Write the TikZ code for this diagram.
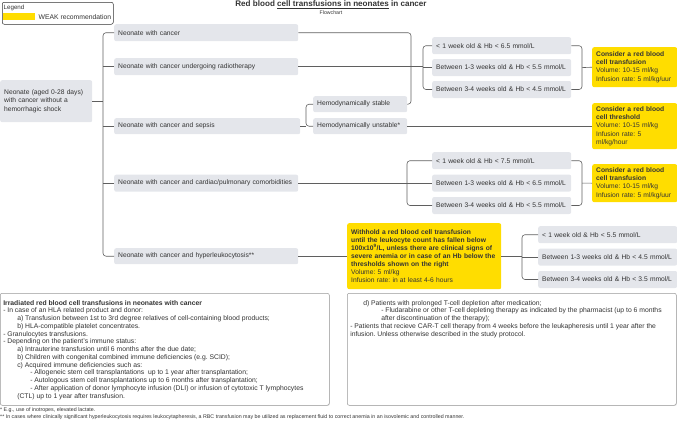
\documentclass[tikz,border=0pt]{standalone}
\usepackage{fontspec}
\setmainfont{Liberation Sans}
\usetikzlibrary{positioning}
\usetikzlibrary{shadows}
\frenchspacing

\definecolor{condgray}{HTML}{E4E6EB}
\definecolor{weakyellow}{HTML}{FFDD00}
\definecolor{linegray}{HTML}{5F5F5F}
\definecolor{txtgray}{HTML}{333333}
\definecolor{framegray}{HTML}{9A9A9A}

\tikzset{
  cond/.style={fill=condgray, rounded corners=2pt, text=txtgray, inner xsep=4pt, inner ysep=0pt,
    minimum height=17pt, text width=#1, align=left, anchor=north west,
    font=\fontsize{6.7}{8.2}\selectfont},
  weak/.style={fill=weakyellow, rounded corners=2pt, text=txtgray, inner xsep=4pt, inner ysep=0pt,
    text width=#1, align=left, anchor=north west, font=\fontsize{6.7}{8.1}\selectfont},
  conn/.style={draw=linegray, line width=0.6pt, rounded corners=3pt},
  note/.style={draw=framegray, fill=white, rounded corners=2pt, line width=0.5pt, inner xsep=3pt,
    inner ysep=7pt, anchor=north west, text=txtgray, font=\fontsize{6.8}{7.75}\selectfont,
    drop shadow={opacity=0.25, shadow xshift=0.6pt, shadow yshift=-0.6pt}},
  foot/.style={anchor=west, inner sep=0pt, text=txtgray, font=\fontsize{5.3}{6}\selectfont}
}

\begin{document}
\begin{tikzpicture}[x=1pt, y=-1pt]
  \useasboundingbox (0,0) rectangle (677,426);

  % legend and title
  \node (legend) [draw=txtgray, rounded corners=2pt, line width=0.5pt, minimum width=111pt,
    minimum height=22pt, anchor=north west] at (2,2) {};
  \node (legendtitle) [anchor=west, inner sep=0pt, text=txtgray, font=\fontsize{6.2}{7}\selectfont] at (3.5,7.5) {Legend};
  \node (swatch) [fill=weakyellow, minimum width=32pt, minimum height=7pt, inner sep=0pt, anchor=north west] at (3,13) {};
  \node (weaklabel) [right=3pt of swatch, inner sep=0pt, text=txtgray, font=\fontsize{6.8}{8}\selectfont] {WEAK recommendation};
  \node (title) [inner sep=0pt, text=txtgray, font=\fontsize{8.1}{9}\selectfont\bfseries] at (331,4.5)
    {Red blood \underline{cell transfusions in neonates} in cancer};
  \node (subtitle) [below=1.5pt of title, inner sep=0pt, text=txtgray, font=\fontsize{5.2}{6}\selectfont] {Flowchart};

  % patient groups
  \node (root) [cond=84pt, minimum height=42pt] at (0,80) {Neonate (aged 0-28 days)\\with cancer without a\\hemorrhagic shock};
  \node (c1) [cond=176pt] at (114,24) {Neonate with cancer};
  \node (c2) [cond=176pt] at (114,58) {Neonate with cancer undergoing radiotherapy};
  \node (c3) [cond=178pt, minimum height=16pt] at (114,118) {Neonate with cancer and sepsis};
  \node (c4) [cond=176pt] at (114,174.5) {Neonate with cancer and cardiac/pulmonary comorbidities};
  \node (c5) [cond=176pt, minimum height=16pt] at (114,248) {Neonate with cancer and hyperleukocytosis**};

  % sepsis
  \node (h1) [cond=86pt, minimum height=16pt] at (313,96) {Hemodynamically stable};
  \node (h2) [cond=86pt, minimum height=16pt] at (313,118) {Hemodynamically unstable*};

  % thresholds
  \node (a1) [cond=131pt] at (432,37) {< 1 week old \& Hb < 6.5 mmol/L};
  \node (a2) [cond=131pt, below=4.5pt of a1] {Between 1-3 weeks old \& Hb < 5.5 mmol/L};
  \node (a3) [cond=131pt, below=4.5pt of a2] {Between 3-4 weeks old \& Hb < 4.5 mmol/L};
  \node (b1) [cond=131pt] at (432,152) {< 1 week old \& Hb < 7.5 mmol/L};
  \node (b2) [cond=131pt, below=5pt of b1] {Between 1-3 weeks old \& Hb < 6.5 mmol/L};
  \node (b3) [cond=131pt, below=5pt of b2] {Between 3-4 weeks old \& Hb < 5.5 mmol/L};
  \node (d1) [cond=131pt] at (538,226) {< 1 week old \& Hb < 5.5 mmol/L};
  \node (d2) [cond=131pt, below=5pt of d1] {Between 1-3 weeks old \& Hb < 4.5 mmol/L};
  \node (d3) [cond=131pt, below=5pt of d2] {Between 3-4 weeks old \& Hb < 3.5 mmol/L};

  % recommendations
  \node (y1) [weak=77pt, minimum height=40pt] at (592,47)
    {\textbf{Consider a red blood\\cell transfusion}\\Volume: 10-15 ml/kg\\Infusion rate: 5 ml/kg/uur};
  \node (y2) [weak=77pt, minimum height=46pt] at (592,103)
    {\textbf{Consider a red blood\\cell threshold}\\Volume: 10-15 ml/kg\\Infusion rate: 5\\ml/kg/hour};
  \node (y3) [weak=77pt, minimum height=38pt] at (592,164)
    {\textbf{Consider a red blood\\cell transfusion}\\Volume: 10-15 ml/kg\\Infusion rate: 5 ml/kg/uur};
  \node (y4) [weak=146pt, minimum height=66pt] at (347,223)
    {\textbf{Withhold a red blood cell transfusion\\until the leukocyte count has fallen below\\100x10\textsuperscript{9}/L, unless there are clinical signs of\\severe anemia or in case of an Hb below the\\thresholds shown on the right}\\Volume: 5 ml/kg\\Infusion rate: in at least 4-6 hours};

  % connectors
  \coordinate (trunk) at (103,0);
  \coordinate (brs) at (306,0);
  \coordinate (br1) at (411,0);
  \coordinate (br2) at (423,0);
  \coordinate (br4) at (407,0);
  \coordinate (br5) at (522,0);
  \coordinate (brr) at (582,0);

  \draw[conn] (c1.west) -- (c1.west -| trunk) -- (c5.west -| trunk) -- (c5.west);
  \draw[conn] (root.east) -- (root.east -| trunk);
  \foreach \n in {c2,c3,c4}
    \draw[conn] (\n.west -| trunk) -- (\n.west);

  \draw[conn] (c1.east) -- (c1.east -| br1) -- (h1.east -| br1) -- (h1.east);
  \draw[conn] (c2.east) -- (c2.east -| br2);
  \draw[conn] (h1.west) -- (h1.west -| brs) -- (h2.west -| brs) -- (h2.west);
  \draw[conn] (c3.east) -- (c3.east -| brs);
  \draw[conn] (h2.east) -- (y2.west);
  \draw[conn] (c4.east) -- (c4.east -| br4);
  \draw[conn] (c5.east) -- (y4.west);

  \draw[conn] (a1.west) -- (a1.west -| br2) -- (a3.west -| br2) -- (a3.west);
  \draw[conn] (a2.west -| br2) -- (a2.west);
  \draw[conn] (a1.east) -- (a1.east -| brr) -- (a3.east -| brr) -- (a3.east);
  \draw[conn] (a2.east -| brr) -- (y1.west);

  \draw[conn] (b1.west) -- (b1.west -| br4) -- (b3.west -| br4) -- (b3.west);
  \draw[conn] (b2.west -| br4) -- (b2.west);
  \draw[conn] (b1.east) -- (b1.east -| brr) -- (b3.east -| brr) -- (b3.east);
  \draw[conn] (b2.east -| brr) -- (y3.west);

  \draw[conn] (y4.east) -- (y4.east -| br5);
  \draw[conn] (d1.west) -- (d1.west -| br5) -- (d3.west -| br5) -- (d3.west);
  \draw[conn] (d2.west -| br5) -- (d2.west);

  % irradiation notes
  \node (irrleft) [note] at (0,293) {\parbox[t][98pt][t]{323pt}{%
    \textbf{Irradiated red blood cell transfusions in neonates with cancer}\\
    - In case of an HLA related product and donor:\\
    \hspace*{14pt}a) Transfusion between 1st to 3rd degree relatives of cell-containing blood products;\\
    \hspace*{14pt}b) HLA-compatible platelet concentrates.\\
    - Granulocytes transfusions.\\
    - Depending on the patient's immune status:\\
    \hspace*{14pt}a) Intrauterine transfusion until 6 months after the due date;\\
    \hspace*{14pt}b) Children with congenital combined immune deficiencies (e.g. SCID);\\
    \hspace*{14pt}c) Acquired immune deficiencies such as:\\
    \hspace*{27pt}- Allogeneic stem cell transplantations\ \ up to 1 year after transplantation;\\
    \hspace*{27pt}- Autologous stem cell transplantations up to 6 months after transplantation;\\
    \hspace*{27pt}- After application of donor lymphocyte infusion (DLI) or infusion of cytotoxic T lymphocytes\\
    \hspace*{14pt}(CTL) up to 1 year after transfusion.}};
  \node (irrright) [note] at (347,293) {\parbox[t][98pt][t]{323pt}{%
    \hspace*{13pt}d) Patients with prolonged T-cell depletion after medication;\\
    \hspace*{31pt}- Fludarabine or other T-cell depleting therapy as indicated by the pharmacist (up to 6 months\\
    \hspace*{31pt}after discontinuation of the therapy);\\
    - Patients that recieve CAR-T cell therapy from 4 weeks before the leukapheresis until 1 year after the\\
    infusion. Unless otherwise described in the study protocol.}};

  % footnotes
  \node (foot1) [foot] at (0,410.5) {* E.g., use of inotropes, elevated lactate.};
  \node (foot2) [foot] at (0,417.5) {** In cases where clinically significant hyperleukocytosis requires leukocytapheresis, a RBC transfusion may be utilized as replacement fluid to correct anemia in an isovolemic and controlled manner.};
\end{tikzpicture}
\end{document}
